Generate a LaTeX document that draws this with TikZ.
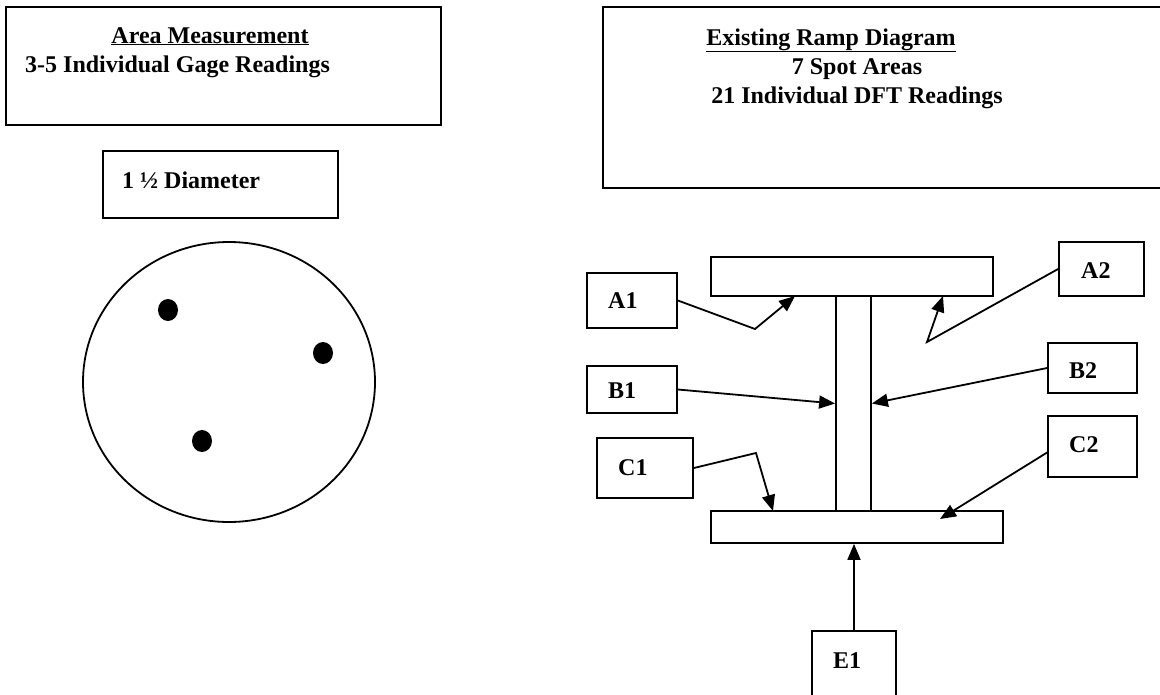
\documentclass[tikz,border=0pt]{standalone}
\usepackage{fontspec}
\setmainfont{Liberation Serif}
\usetikzlibrary{arrows.meta, positioning}

\tikzset{
  outline/.style={rectangle, draw, line width=1.8pt, inner sep=0pt},
  tag/.style={anchor=base west, inner sep=0pt},
  ptr/.style={line width=1.8pt, -{Triangle[length=16pt,width=13pt]}}
}

\begin{document}
\begin{tikzpicture}[x=1pt, y=-1pt, font=\fontsize{24}{28}\selectfont\bfseries]
\useasboundingbox (0,0) rectangle (1160,694);
\clip (0,0) rectangle (1160,694);

% Area measurement side
\node[outline, minimum width=435pt, minimum height=118pt] (areabox) at (223.5,66) {};
\node[anchor=base, inner sep=0pt] (areatitle) at (210,43) {\underline{Area Measurement}};
\node[tag] (areasub) at (25,72) {3-5 Individual Gage Readings};
\node[outline, minimum width=235pt, minimum height=67pt] (diabox) at (220.5,184.5) {};
\node[tag] (diatxt) at (122,188) {1 ½ Diameter};
\draw[line width=1.8pt] (229,382) ellipse [x radius=146, y radius=140];
\fill (168,310) ellipse [x radius=10, y radius=11];
\fill (323,353) ellipse [x radius=10, y radius=11];
\fill (202,441) ellipse [x radius=10, y radius=11];

% Ramp side
\node[outline, minimum width=597pt, minimum height=181pt] (rampbox) at (901.5,97.5) {};
\node[anchor=base, inner sep=0pt] (ramptitle) at (831,45) {\underline{Existing Ramp Diagram}};
\node[anchor=base, inner sep=0pt] (rampspots) at (857,74) {7 Spot Areas};
\node[anchor=base, inner sep=0pt] (rampdft) at (857,103) {21 Individual DFT Readings};

\node[outline, minimum width=282pt, minimum height=39pt] (topflange) at (852,276.5) {};
\node[outline, minimum width=35pt, minimum height=215pt] (web) at (853.5,403.5) {};
\node[outline, minimum width=292pt, minimum height=32pt] (botflange) at (857,527) {};

% Spot boxes
\node[outline, minimum width=90pt, minimum height=55pt] (a1box) at (632,300.5) {};
\node[tag] (a1txt) at (608,308) {A1};
\node[outline, minimum width=90pt, minimum height=47pt] (b1box) at (632,389.5) {};
\node[tag] (b1txt) at (608,398) {B1};
\node[outline, minimum width=96pt, minimum height=60pt] (c1box) at (645,468) {};
\node[tag] (c1txt) at (618,475) {C1};
\node[outline, minimum width=85pt, minimum height=54pt] (a2box) at (1101.5,269) {};
\node[tag] (a2txt) at (1081,278) {A2};
\node[outline, minimum width=89pt, minimum height=50pt] (b2box) at (1092.5,368) {};
\node[tag] (b2txt) at (1069,378) {B2};
\node[outline, minimum width=89pt, minimum height=61pt] (c2box) at (1092.5,446.5) {};
\node[tag] (c2txt) at (1069,452) {C2};
\node[outline, minimum width=84pt, minimum height=89pt] (e1box) at (854,675.5) {};
\node[tag] (e1txt) at (833,668) {E1};

% Pointers
\coordinate (a1bend) at (755,329);
\coordinate (a1tip) at (795,296);
\coordinate (a2bend) at (927,342);
\coordinate (a2tip) at (943,296);
\coordinate (c1bend) at (756,453);
\coordinate (c1tip) at (773,511);
\coordinate (c2tip) at (940,519);
\draw[ptr] (a1box.east) -- (a1bend) -- (a1tip);
\draw[ptr] (a2box.west) -- (a2bend) -- (a2tip);
\draw[ptr] (b1box.east) -- (web.west);
\draw[ptr] (b2box.west) -- (web.east);
\draw[ptr] (c1box.east) -- (c1bend) -- (c1tip);
\draw[ptr] ([yshift=-6pt]c2box.west) -- (c2tip);
\draw[ptr] (e1box.north) -- (e1box.north |- botflange.south);
\end{tikzpicture}
\end{document}
